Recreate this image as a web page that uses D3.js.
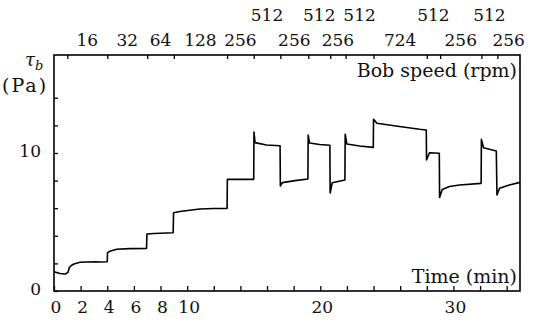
<!DOCTYPE html>
<html>
<head>
<meta charset="utf-8">
<script src="https://cdn.jsdelivr.net/npm/d3@7"></script>
<style>
  html, body { margin: 0; padding: 0; background: #fff; }
  svg { display: block; }
</style>
</head>
<body>
<script>
// ---- data ----
const timeMin = [0, 0.45, 0.85, 1.05, 1.15, 1.3, 1.5, 1.95, 2.5, 3.1, 3.5, 4.0, 4.02, 4.2, 4.7, 5.7, 6.95, 6.98, 7.5, 8.95,
  8.98, 9.45, 10.95, 12.0, 13.0, 13.02, 15.0, 15.02, 15.1, 15.95, 16.98, 17.0, 17.15, 18.1, 19.07, 19.09, 19.2, 19.95, 20.72, 20.74,
  20.9, 21.85, 21.87, 22.0, 22.95, 23.98, 24.0, 24.25, 25.95, 27.45, 27.96, 27.98, 28.2, 28.94, 28.96, 29.16, 29.7, 30.45, 32.08, 32.1,
  32.26, 33.22, 33.27, 33.46, 34.2, 35.0];
const stressPa = [1.40, 1.27, 1.23, 1.35, 1.70, 1.85, 1.96, 2.08, 2.10, 2.12, 2.10, 2.12, 2.78, 2.88, 3.02, 3.07, 3.09, 4.13, 4.17, 4.22,
  5.67, 5.76, 5.94, 5.98, 5.99, 8.09, 8.09, 11.52, 10.75, 10.58, 10.53, 7.61, 7.85, 8.00, 8.12, 11.30, 10.72, 10.62, 10.56, 7.10,
  7.85, 8.04, 11.36, 10.65, 10.51, 10.41, 12.44, 12.15, 11.92, 11.72, 11.67, 9.49, 10.02, 9.98, 6.78, 7.36, 7.57, 7.68, 7.80, 10.99,
  10.38, 10.14, 6.96, 7.44, 7.68, 7.87];

// bob speed schedule (rpm) : start / end time of each interval
const speedStart = [1, 4, 7, 9, 13, 15, 17, 19.1, 20.75, 21.9, 24, 28, 29, 32.1, 33.3];
const speedEnd   = [4, 7, 9, 13, 15, 17, 19.1, 20.75, 21.9, 24, 28, 29, 32.1, 33.3, 35];
const speedRpm   = [16, 32, 64, 128, 256, 512, 256, 512, 256, 512, 724, 512, 256, 512, 256];

const xTicks = d3.range(0, 35, 2);
const xTickLabels = [0, 2, 4, 6, 8, 10, 20, 30];
const yTicks = [0, 2, 4, 6, 8, 10, 12, 14];
const yTickLabels = [0, 10];

// ---- layout ----
const W = 533, H = 323;
const L = 54, R = 520, T = 55, B = 291;
const FONT = "'DejaVu Serif', 'Liberation Serif', serif";

const x = d3.scaleLinear().domain([0, 35]).range([L, R]);
const y = d3.scaleLinear().domain([0, 17.1]).range([B, T]);

const svg = d3.select("body").append("svg").attr("width", W).attr("height", H);

// frame
svg.append("rect").attr("x", L).attr("y", T).attr("width", R - L).attr("height", B - T)
  .attr("fill", "none").attr("stroke", "#000").attr("stroke-width", 1.6);

// bottom axis ticks (inward)
const gx = svg.append("g").attr("transform", `translate(0,${B})`)
  .call(d3.axisTop(x).tickValues(xTicks).tickSize(5).tickFormat(""));
gx.select(".domain").remove();
gx.selectAll("line").attr("stroke", "#000").attr("stroke-width", 1.3);

const txt = sel => sel.attr("font-family", FONT).attr("fill", "#111");

svg.append("g").selectAll("text").data(xTickLabels).join("text").call(txt)
  .attr("x", d => x(d) + 2).attr("y", B + 22)
  .attr("text-anchor", "middle").attr("font-size", 17).text(d => d);

// left axis ticks (inward)
const gy = svg.append("g").attr("transform", `translate(${L},0)`)
  .call(d3.axisRight(y).tickValues(yTicks).tickSize(4).tickFormat(""));
gy.select(".domain").remove();
gy.selectAll("line").attr("stroke", "#000").attr("stroke-width", 1.3);

svg.append("g").selectAll("text").data(yTickLabels).join("text").call(txt)
  .attr("x", 41).attr("y", d => y(d) - 2).attr("dy", "0.35em")
  .attr("text-anchor", "end").attr("font-size", 17).text(d => d);

// top axis ticks at speed changes (inward)
const gt = svg.append("g").attr("transform", `translate(0,${T})`)
  .call(d3.axisBottom(x).tickValues(speedStart).tickSize(4).tickFormat(""));
gt.select(".domain").remove();
gt.selectAll("line").attr("stroke", "#000").attr("stroke-width", 1.3);

// speed labels
const speedData = speedRpm.map((s, i) => ({ s, a: speedStart[i], b: speedEnd[i] }));
svg.append("g").selectAll("text").data(speedData).join("text").call(txt)
  .attr("x", d => x((d.a + d.b) / 2))
  .attr("y", d => d.s === 512 ? 21 : 46)
  .attr("text-anchor", "middle").attr("font-size", 17).text(d => d.s);

// curve
const pts = timeMin.map((t, i) => [t, stressPa[i]]);
svg.append("path").datum(pts)
  .attr("fill", "none").attr("stroke", "#000").attr("stroke-width", 1.6)
  .attr("stroke-linejoin", "round")
  .attr("d", d3.line().x(d => x(d[0])).y(d => y(d[1])));

// axis titles
svg.append("text").call(txt).attr("x", R - 3).attr("y", T + 22).attr("text-anchor", "end")
  .attr("font-size", 19).text("Bob speed (rpm)");
svg.append("text").call(txt).attr("x", R - 3).attr("y", B - 8).attr("text-anchor", "end")
  .attr("font-size", 19).text("Time (min)");

const tau = svg.append("text").call(txt).attr("x", 25).attr("y", 66).attr("font-size", 18);
tau.append("tspan").attr("font-style", "italic").text("τ");
tau.append("tspan").attr("font-style", "italic").attr("font-size", 13).attr("dy", 4).text("b");
svg.append("text").call(txt).attr("x", 2).attr("y", 92).attr("font-size", 19)
  .attr("letter-spacing", 2).text("(Pa)");
</script>
</body>
</html>
